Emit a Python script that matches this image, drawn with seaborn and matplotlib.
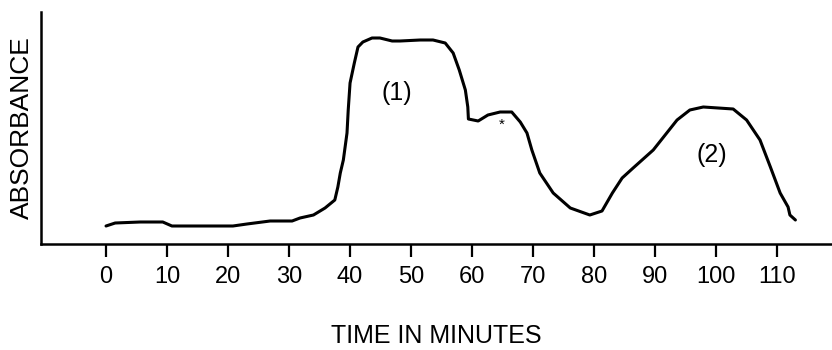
import numpy as np
import pandas as pd
import matplotlib
matplotlib.use("Agg")
import matplotlib.pyplot as plt
import seaborn as sns

# Data (time in minutes, absorbance in arbitrary units)
time_min = [0, 1.5, 5.6, 9.3, 10.8, 15.4, 20.8, 23.1, 26.9, 30.5, 31.8, 34.0, 35.9,
            37.5, 38.0, 38.4, 38.9, 39.5, 39.7, 40.0, 40.7, 41.3, 42.1, 43.6, 44.9,
            46.9, 48.2, 51.5, 53.6, 55.6, 56.9, 57.9, 58.9, 59.3, 59.4, 61.0, 62.6,
            64.6, 66.5, 67.9, 69.0, 69.8, 71.1, 73.3, 76.1, 79.3, 81.3, 83.0, 84.6,
            86.4, 89.7, 93.6, 95.7, 97.9, 102.8, 105.0, 107.2, 108.9, 110.5, 111.8,
            112.1, 113.0]
absorbance = [0.18, 0.21, 0.22, 0.22, 0.18, 0.18, 0.18, 0.20, 0.23, 0.23, 0.26, 0.29,
              0.36, 0.44, 0.57, 0.71, 0.84, 1.11, 1.34, 1.61, 1.81, 1.97, 2.02, 2.06,
              2.06, 2.03, 2.03, 2.04, 2.04, 2.01, 1.91, 1.74, 1.54, 1.37, 1.25, 1.23,
              1.29, 1.32, 1.32, 1.22, 1.11, 0.94, 0.71, 0.51, 0.36, 0.29, 0.33, 0.51,
              0.66, 0.76, 0.94, 1.24, 1.34, 1.37, 1.35, 1.24, 1.04, 0.77, 0.51, 0.37,
              0.29, 0.24]

tick_values = [0, 10, 20, 30, 40, 50, 60, 70, 80, 90, 100, 110]
tick_labels = ["0", "10", "20", "30", "40", "50", "60", "70", "80", "90", "100", "110"]

peak_labels = ["(1)", "(2)", "*"]
peak_x = [47.7, 99.3, 64.9]
peak_y = [1.51, 0.89, 1.19]

df = pd.DataFrame({"time": time_min, "absorbance": absorbance})

sns.set_style("ticks")
plt.rcParams["font.family"] = ["Liberation Sans", "DejaVu Sans"]
plt.rcParams["text.color"] = "black"
plt.rcParams["axes.labelcolor"] = "black"
plt.rcParams["xtick.color"] = "black"
plt.rcParams["xtick.labelcolor"] = "black"

fig = plt.figure(figsize=(8.32, 3.5), dpi=100)
ax = fig.add_axes([41 / 832, 106 / 350, 1 - 41 / 832, 232 / 350])

sns.lineplot(data=df, x="time", y="absorbance", ax=ax, color="black",
             linewidth=2.2, sort=False, estimator=None)

for lab, xx, yy in zip(peak_labels, peak_x, peak_y):
    ax.text(xx, yy, lab, ha="center", va="center", color="black",
            fontsize=18 if lab != "*" else 11)

ax.set_xlim(-10.66, 119.0)
ax.set_ylim(0, 2.32)
ax.set_xticks(tick_values)
ax.set_xticklabels(tick_labels, fontsize=17)
ax.set_yticks([])
ax.tick_params(axis="x", direction="out", length=9.5, width=1.6, pad=6, color="black")
ax.set_xlabel("TIME IN MINUTES", fontsize=18, labelpad=26)
ax.set_ylabel("ABSORBANCE", fontsize=19, labelpad=5)

sns.despine(ax=ax, top=True, right=True)
for side in ("left", "bottom"):
    ax.spines[side].set_linewidth(1.8)
    ax.spines[side].set_color("black")

fig.savefig("out.png", dpi=100)
